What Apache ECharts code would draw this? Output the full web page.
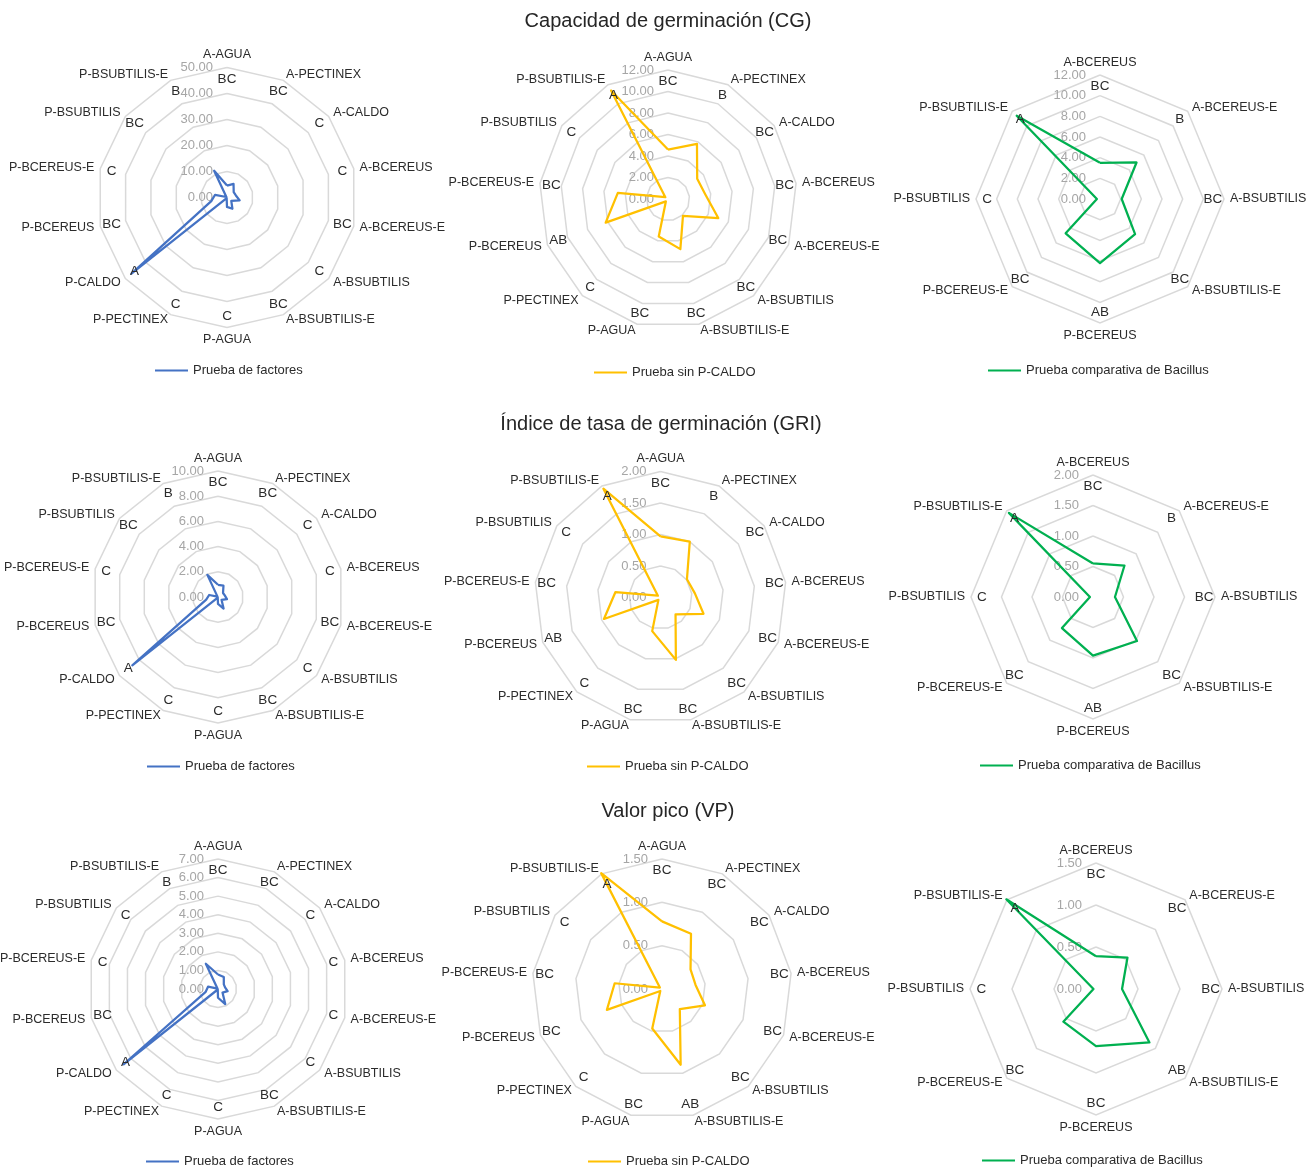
<!DOCTYPE html>
<html>
<head>
<meta charset="utf-8">
<script src="https://cdn.jsdelivr.net/npm/echarts@6/dist/echarts.min.js"></script>
<style>
html,body{margin:0;padding:0;background:#ffffff;}
#chart{width:1316px;height:1174px;}
</style>
</head>
<body>
<div id="chart"></div>
<script>
// ---------------- DATA ----------------
const treatments = ['A-AGUA','A-PECTINEX','A-CALDO','A-BCEREUS','A-BCEREUS-E','A-BSUBTILIS','A-BSUBTILIS-E','P-AGUA','P-PECTINEX','P-CALDO','P-BCEREUS','P-BCEREUS-E','P-BSUBTILIS','P-BSUBTILIS-E'];
const catsFactores = ['A-AGUA','A-PECTINEX','A-CALDO','A-BCEREUS','A-BCEREUS-E','A-BSUBTILIS','A-BSUBTILIS-E','P-AGUA','P-PECTINEX','P-CALDO','P-BCEREUS','P-BCEREUS-E','P-BSUBTILIS','P-BSUBTILIS-E'];
const catsSinCaldo = ['A-AGUA','A-PECTINEX','A-CALDO','A-BCEREUS','A-BCEREUS-E','A-BSUBTILIS','A-BSUBTILIS-E','P-AGUA','P-PECTINEX','P-BCEREUS','P-BCEREUS-E','P-BSUBTILIS','P-BSUBTILIS-E'];
const catsBacillus = ['A-BCEREUS','A-BCEREUS-E','A-BSUBTILIS','A-BSUBTILIS-E','P-BCEREUS','P-BCEREUS-E','P-BSUBTILIS','P-BSUBTILIS-E'];

// mean values per treatment (same order as treatments)
const cgMeans  = [4.6, 5.8, 3.3, 3.5, 5.0, 2.1, 4.8, 3.6, 0.3, 47.0, 6.2, 4.7, 0.3, 11.4];
const griMeans = [0.97, 1.00, 0.51, 0.55, 0.73, 0.36, 1.02, 0.55, 0.05, 8.7, 0.96, 0.72, 0.05, 1.95];
const vpMeans  = [0.78, 0.72, 0.40, 0.39, 0.53, 0.31, 0.90, 0.47, 0.03, 6.5, 0.68, 0.55, 0.03, 1.51];

// significance letters per chart (same order as that chart's categories)
const lettersCgFactores  = ['BC','BC','C','C','BC','C','BC','C','C','A','BC','C','BC','B'];
const lettersCgSinCaldo  = ['BC','B','BC','BC','BC','BC','BC','BC','C','AB','BC','C','A'];
const lettersCgBacillus  = ['BC','B','BC','BC','AB','BC','C','A'];
const lettersGriFactores = ['BC','BC','C','C','BC','C','BC','C','C','A','BC','C','BC','B'];
const lettersGriSinCaldo = ['BC','B','BC','BC','BC','BC','BC','BC','C','AB','BC','C','A'];
const lettersGriBacillus = ['BC','B','BC','BC','AB','BC','C','A'];
const lettersVpFactores  = ['BC','BC','C','C','C','C','BC','C','C','A','BC','C','C','B'];
const lettersVpSinCaldo  = ['BC','BC','BC','BC','BC','BC','AB','BC','C','BC','BC','C','A'];
const lettersVpBacillus  = ['BC','BC','BC','AB','BC','BC','C','A'];

// tick labels
const ticksCgFactores  = [0, 10, 20, 30, 40, 50];
const ticksCgSinCaldo  = [0, 2, 4, 6, 8, 10, 12];
const ticksCgBacillus  = [0, 2, 4, 6, 8, 10, 12];
const ticksGriFactores = [0, 2, 4, 6, 8, 10];
const ticksGriSinCaldo = [0, 0.5, 1, 1.5, 2];
const ticksGriBacillus = [0, 0.5, 1, 1.5, 2];
const ticksVpFactores  = [0, 1, 2, 3, 4, 5, 6, 7];
const ticksVpSinCaldo  = [0, 0.5, 1, 1.5];
const ticksVpBacillus  = [0, 0.5, 1, 1.5];

const seriesNames = ['Prueba de factores', 'Prueba sin P-CALDO', 'Prueba comparativa de Bacillus'];
const titles = ['Capacidad de germinación (CG)', 'Índice de tasa de germinación (GRI)', 'Valor pico (VP)'];

// ---------------- LAYOUT / STYLE ----------------
const FONT = "'Liberation Sans', Arial, sans-serif";
const COLORS = ['#4472C4', '#FFC000', '#00B050'];
const TEXT = '#2b2b2b';

const panels = [
  {cats: catsFactores, means: cgMeans,  letters: lettersCgFactores,  ticks: ticksCgFactores,  col: 0, center: [227, 197.5], r: 130, legend: [155, 364]},
  {cats: catsSinCaldo, means: cgMeans,  letters: lettersCgSinCaldo,  ticks: ticksCgSinCaldo,  col: 1, center: [668, 199],   r: 129, legend: [594, 366]},
  {cats: catsBacillus, means: cgMeans,  letters: lettersCgBacillus,  ticks: ticksCgBacillus,  col: 2, center: [1100, 199],  r: 124, legend: [988, 364]},
  {cats: catsFactores, means: griMeans, letters: lettersGriFactores, ticks: ticksGriFactores, col: 0, center: [218, 597],   r: 126, legend: [147, 760]},
  {cats: catsSinCaldo, means: griMeans, letters: lettersGriSinCaldo, ticks: ticksGriSinCaldo, col: 1, center: [660.5, 597.5], r: 126, legend: [587, 760]},
  {cats: catsBacillus, means: griMeans, letters: lettersGriBacillus, ticks: ticksGriBacillus, col: 2, center: [1093, 597],  r: 122, legend: [980, 759]},
  {cats: catsFactores, means: vpMeans,  letters: lettersVpFactores,  ticks: ticksVpFactores,  col: 0, center: [218, 989],   r: 130, legend: [146, 1155]},
  {cats: catsSinCaldo, means: vpMeans,  letters: lettersVpSinCaldo,  ticks: ticksVpSinCaldo,  col: 1, center: [662, 989],   r: 130, legend: [588, 1155]},
  {cats: catsBacillus, means: vpMeans,  letters: lettersVpBacillus,  ticks: ticksVpBacillus,  col: 2, center: [1096, 989],  r: 126, legend: [982, 1154]}
];

const radars = [], series = [], legends = [];
panels.forEach(function (p, k) {
  const tmin = p.ticks[0], tmax = p.ticks[p.ticks.length - 1];
  const n = p.cats.length;
  // ECharts lays indicators out counter-clockwise; reorder so the categories run clockwise
  const order = [0];
  for (let i = n - 1; i >= 1; i--) order.push(i);
  radars.push({
    center: p.center,
    radius: p.r,
    startAngle: 90,
    shape: 'polygon',
    splitNumber: p.ticks.length - 1,
    nameGap: 6,
    indicator: order.map(function (ci, j) {
      const ind = {name: p.cats[ci], min: tmin, max: tmax};
      if (j === 0) ind.axisLabel = {show: true};
      return ind;
    }),
    axisName: {color: TEXT, fontSize: 12.5, fontFamily: FONT},
    axisLine: {show: false},
    axisTick: {show: false},
    axisLabel: {show: false, color: '#a6a6a6', fontSize: 13, fontFamily: FONT, margin: 14,
      formatter: function (v) { return Number(v).toFixed(2); }},
    splitLine: {lineStyle: {color: '#d9d9d9', width: 1.5}},
    splitArea: {show: false}
  });
  const color = COLORS[p.col];
  const name = seriesNames[p.col];
  const vals = order.map(function (ci) { return p.means[treatments.indexOf(p.cats[ci])]; });
  series.push({
    type: 'radar', radarIndex: k, name: name, symbol: 'none', z: 3,
    lineStyle: {color: color, width: 2.25},
    itemStyle: {color: color},
    data: [{value: vals, name: name}]
  });
  const letters = p.letters;
  series.push({
    type: 'radar', radarIndex: k, name: 'letras' + k, symbol: 'circle', symbolSize: 1, z: 4, silent: true,
    itemStyle: {color: 'rgba(0,0,0,0)'},
    lineStyle: {width: 0, opacity: 0},
    label: {show: true, position: 'inside', color: TEXT, fontSize: 13.5, fontFamily: FONT,
      formatter: function (prm) { return letters[order[prm.dimensionIndex]]; }},
    data: [{value: order.map(function () { return tmax * 0.91; }), name: 'letras' + k}]
  });
  legends.push({
    data: [name], left: p.legend[0], top: p.legend[1], padding: 0,
    icon: 'rect', itemWidth: 33, itemHeight: 2, selectedMode: false,
    textStyle: {color: TEXT, fontSize: 13, fontFamily: FONT}
  });
});

const titleY = [11, 414, 801];
const titleX = [668, 661, 668];
const titleOpts = titles.map(function (t, i) {
  return {text: t, left: titleX[i], top: titleY[i], textAlign: 'center', padding: 0,
    textStyle: {fontSize: 20, fontWeight: 'normal', color: '#262626', fontFamily: FONT}};
});

const chart = echarts.init(document.getElementById('chart'), null, {renderer: 'canvas'});
chart.setOption({
  backgroundColor: '#ffffff',
  animation: false,
  title: titleOpts,
  legend: legends,
  radar: radars,
  series: series
});
</script>
</body>
</html>
